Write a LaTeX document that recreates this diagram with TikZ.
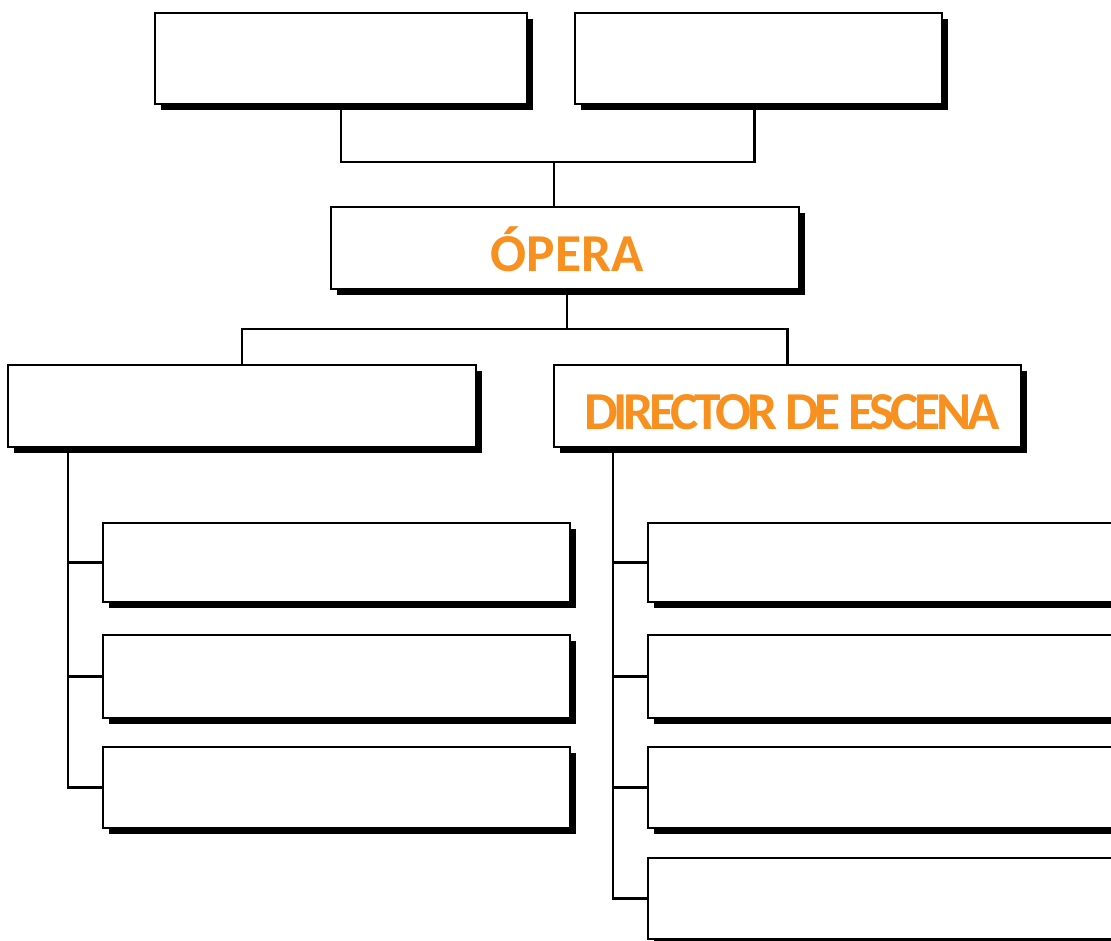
\documentclass[tikz,border=0pt]{standalone}
\usepackage{fontspec}
\setmainfont{Carlito}
\usetikzlibrary{shadows,fit,calc}
\definecolor{operaorange}{HTML}{F7901E}
\pgfdeclarelayer{bg}
\pgfsetlayers{bg,main}
\begin{document}
\begin{tikzpicture}[x=0.75pt,y=-0.75pt,
  box/.style={draw=black, line width=1.8pt, fill=white, inner sep=0pt, outer sep=0pt,
    drop shadow={shadow xshift=4.8pt, shadow yshift=-4.8pt, opacity=1, fill=black}},
  link/.style={draw=black, line width=1.7pt},
  title/.style={text=operaorange, font=\fontsize{40}{40}\selectfont\bfseries, inner sep=0pt, anchor=base}]
\useasboundingbox (0,0) rectangle (1111,940);
% top boxes
\node[box, fit={(155,13) (527,104)}] (tl) {};
\node[box, fit={(575,13) (942,104)}] (tr) {};
% opera
\node[box, fit={(331,207) (799,289)}] (opera) {};
\node[title] (operat) at (567,271) {ÓPERA};
% second level
\node[box, fit={(8,365) (476,447)}] (lft) {};
\node[box, fit={(554,365) (1021,447)}] (dir) {};
\node[title, font=\fontsize{40}{40}\selectfont\bfseries\addfontfeature{LetterSpace=-8}] (dirt) at (792,429) {DIRECTOR DE ESCENA};
% left children
\node[box, fit={(103,523) (570,602)}] (lc1) {};
\node[box, fit={(103,635) (570,718)}] (lc2) {};
\node[box, fit={(103,747) (570,828)}] (lc3) {};
% right children
\node[box, fit={(648,523) (1116,602)}] (rc1) {};
\node[box, fit={(648,635) (1116,718)}] (rc2) {};
\node[box, fit={(648,747) (1116,828)}] (rc3) {};
\node[box, fit={(648,858) (1116,939)}] (rc4) {};
% connectors
\begin{pgfonlayer}{bg}
\coordinate (j1) at (554,162);
\coordinate (trd) at ($(tr.south)+(-4,0)$);
\draw[link] (tl.south) |- (j1) -| (trd);
\draw[link] (j1) -- (j1 |- opera.north);
\coordinate (j2) at (567,329);
\draw[link] (opera.south -| j2) -- (j2);
\draw[link] (lft.north) |- (j2) -| (dir.north);
\coordinate (lt) at ($(lft.south west)+(60,0)$);
\draw[link] (lt) |- (lc3.west);
\draw[link] (lc1.west) -- (lc1.west -| lt);
\draw[link] (lc2.west) -- (lc2.west -| lt);
\coordinate (rt) at ($(dir.south west)+(59,0)$);
\draw[link] (rt) |- (rc4.west);
\draw[link] (rc1.west) -- (rc1.west -| rt);
\draw[link] (rc2.west) -- (rc2.west -| rt);
\draw[link] (rc3.west) -- (rc3.west -| rt);
\end{pgfonlayer}
\end{tikzpicture}
\end{document}
